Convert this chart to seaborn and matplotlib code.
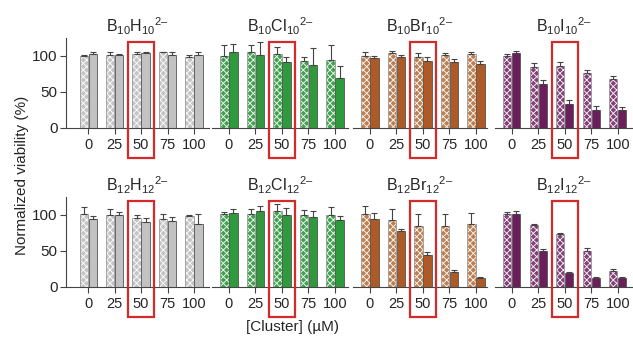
import matplotlib
matplotlib.use("Agg")
import matplotlib.pyplot as plt
import matplotlib.patches as mpatches
import matplotlib.transforms as mtransforms
import numpy as np
import pandas as pd
import seaborn as sns

CONC = ["0", "25", "50", "75", "100"]

TITLES = [
    "B$_{10}$H$_{10}$$^{2\u2013}$", "B$_{10}$Cl$_{10}$$^{2\u2013}$",
    "B$_{10}$Br$_{10}$$^{2\u2013}$", "B$_{10}$I$_{10}$$^{2\u2013}$",
    "B$_{12}$H$_{12}$$^{2\u2013}$", "B$_{12}$Cl$_{12}$$^{2\u2013}$",
    "B$_{12}$Br$_{12}$$^{2\u2013}$", "B$_{12}$I$_{12}$$^{2\u2013}$",
]

# hatched (left) and solid (right) bars, mean and upper error
b10h10_light = [100, 101, 103, 105, 98]
b10h10_light_err = [1, 4, 3, 1, 3]
b10h10_dark = [103, 101, 104, 101, 101]
b10h10_dark_err = [3, 2, 1, 5, 4]

b10cl10_light = [100, 105, 103, 93, 95]
b10cl10_light_err = [15, 10, 10, 6, 20]
b10cl10_dark = [106, 102, 91, 87, 70]
b10cl10_dark_err = [10, 17, 8, 24, 16]

b10br10_light = [100, 103.5, 98.5, 101, 102.5]
b10br10_light_err = [5, 4, 5, 3, 3]
b10br10_dark = [97.5, 99, 93, 91.5, 88.5]
b10br10_dark_err = [3, 3, 5, 4, 4]

b10i10_light = [100, 85, 86, 76.5, 68.5]
b10i10_light_err = [3, 5, 6, 4, 4]
b10i10_dark = [104, 61.5, 33, 25.5, 24.5]
b10i10_dark_err = [3, 5, 6, 5, 5]

b12h12_light = [101, 99.5, 95.5, 95, 98.5]
b12h12_light_err = [10, 9, 5, 6, 2]
b12h12_dark = [94, 99.5, 90.5, 91, 88]
b12h12_dark_err = [4, 4, 6, 6, 13]

b12cl12_light = [101, 101, 105, 100.5, 100]
b12cl12_light_err = [2.5, 7, 10, 7, 11]
b12cl12_dark = [103, 105, 99.5, 97, 93]
b12cl12_dark_err = [6, 8, 10, 8, 5]

b12br12_light = [101, 93, 85, 85, 88]
b12br12_light_err = [12, 15, 16, 16, 15]
b12br12_dark = [94, 77.5, 45, 21, 13]
b12br12_dark_err = [9, 3, 4, 2, 1]

b12i12_light = [101, 86, 73.5, 50, 22]
b12i12_light_err = [3, 1, 2, 4, 3]
b12i12_dark = [101, 50, 19, 12.5, 13]
b12i12_dark_err = [4, 3, 1.5, 1, 1.5]

PANELS = [
    (b10h10_light, b10h10_light_err, b10h10_dark, b10h10_dark_err),
    (b10cl10_light, b10cl10_light_err, b10cl10_dark, b10cl10_dark_err),
    (b10br10_light, b10br10_light_err, b10br10_dark, b10br10_dark_err),
    (b10i10_light, b10i10_light_err, b10i10_dark, b10i10_dark_err),
    (b12h12_light, b12h12_light_err, b12h12_dark, b12h12_dark_err),
    (b12cl12_light, b12cl12_light_err, b12cl12_dark, b12cl12_dark_err),
    (b12br12_light, b12br12_light_err, b12br12_dark, b12br12_dark_err),
    (b12i12_light, b12i12_light_err, b12i12_dark, b12i12_dark_err),
]

# (hatched face, solid face) per column
COLORS = [
    ("#c4c4c4", "#c2c2c2"),
    ("#3fa34e", "#2f9a3c"),
    ("#bd7f50", "#ad5a27"),
    ("#863f7b", "#6b1d5c"),
]

sns.set_theme(style="ticks")
plt.rcParams["font.family"] = ["Liberation Sans", "DejaVu Sans"]
plt.rcParams["mathtext.fontset"] = "custom"
plt.rcParams["mathtext.rm"] = "Liberation Sans"
plt.rcParams["mathtext.it"] = "Liberation Sans"
plt.rcParams["hatch.linewidth"] = 0.6

W, H = 633, 338
fig = plt.figure(figsize=(W / 100, H / 100), dpi=100)

# panel extents in pixels (left, right) and x limits
col_px = [(66, 209), (212, 348), (353, 487), (495, 632)]
col_xlim = [(-0.84, 4.57), (-0.64, 4.49), (-0.64, 4.42), (-0.63, 4.54)]
row_px = [(38, 128), (197, 287)]

for i, (light, light_err, dark, dark_err) in enumerate(PANELS):
    r, c = divmod(i, 4)
    x0, x1 = col_px[c]
    y0, y1 = row_px[r]
    ax = fig.add_axes([x0 / W, 1 - y1 / H, (x1 - x0) / W, (y1 - y0) / H])

    df = pd.DataFrame({
        "conc": CONC * 2,
        "treat": ["light"] * 5 + ["dark"] * 5,
        "value": list(light) + list(dark),
    })
    sns.barplot(data=df, x="conc", y="value", hue="treat", order=CONC,
                hue_order=["light", "dark"], palette=list(COLORS[c]),
                saturation=1, width=0.68, gap=0.08, errorbar=None,
                legend=False, ax=ax, linewidth=0.6, edgecolor="#555555")

    errs = [light_err, dark_err]
    bar_conts = list(ax.containers)
    for k, cont in enumerate(bar_conts):
        xs = [p.get_x() + p.get_width() / 2 for p in cont.patches]
        hs = [p.get_height() for p in cont.patches]
        ax.errorbar(xs, hs, yerr=[np.zeros(len(hs)), errs[k]], fmt="none",
                    ecolor="#444444", elinewidth=0.8, capsize=2.5,
                    capthick=0.8, zorder=1)
        if k == 0:
            for p in cont.patches:
                p.set_hatch("xxxxx")
                p.set_edgecolor("#999999")
                p._hatch_color = (1, 1, 1, 1)

    ax.set_xlim(*col_xlim[c])
    ax.set_ylim(0, 125)
    ax.set_xlabel("")
    ax.set_ylabel("")
    ax.set_title(TITLES[i], fontsize=11.5, pad=4)
    ax.tick_params(axis="x", length=4, width=0.8, color="#444444",
                   labelsize=10.5, pad=3)
    ax.tick_params(axis="y", length=4, width=0.8, color="#444444",
                   labelsize=11, pad=2)
    sns.despine(ax=ax, top=True, right=True, left=(c != 0))
    for s in ax.spines.values():
        s.set_color("#444444")
        s.set_linewidth(0.8)
    if c == 0:
        ax.set_yticks([0, 50, 100])
    else:
        ax.set_yticks([])

    # red box around the 50 uM group
    trans = mtransforms.blended_transform_factory(ax.transData, ax.transAxes)
    box = mpatches.Rectangle((1.51, -0.335), 0.98, 1.295, transform=trans,
                             fill=False, edgecolor="#d42a2a", linewidth=1.6,
                             clip_on=False, zorder=5)
    ax.add_patch(box)

fig.text(0.035, 0.48, "Normalized viability (%)", rotation=90,
         ha="center", va="center", fontsize=11)
fig.text(292 / W, 1 - 327 / H, "[Cluster] (\u00b5M)", ha="center",
         va="center", fontsize=11)

fig.savefig("out.png", dpi=100)
